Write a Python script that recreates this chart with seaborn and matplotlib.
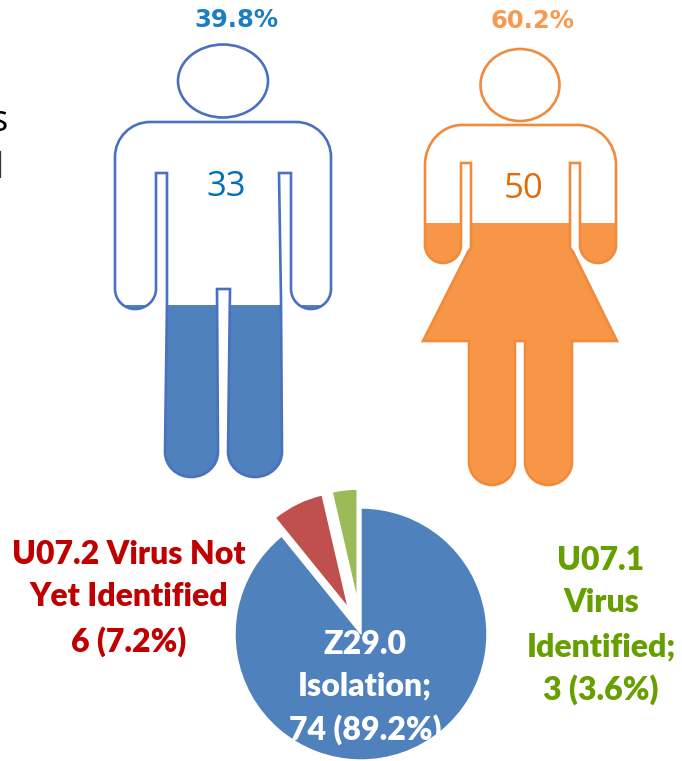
import matplotlib
matplotlib.use("Agg")
import matplotlib.pyplot as plt
from matplotlib.path import Path
from matplotlib.patches import PathPatch, Ellipse
import seaborn as sns

W, H = 682, 761

# valori
gender = ["Male", "Female"]
gender_counts = [33, 50]
gender_pct = [39.8, 60.2]
icd_codes = ["Z29.0 Isolation", "U07.2 Virus Not Yet Identified", "U07.1 Virus Identified"]
icd_counts = [74, 6, 3]

# colori
man_fill, man_line, man_pct, man_num = "#4F81BD", "#4A70C2", "#1B7EC2", "#0070C0"
woman_fill, woman_line, woman_pct, woman_num = "#F79646", "#F08A3C", "#F79A50", "#E36C09"
pie_colors = ["#4F81BD", "#C0504D", "#9BBB59"]

sns.set_theme(style="white")
plt.rcParams["font.family"] = ["Lato", "DejaVu Sans"]


def fy(y):
    return H - y


# sagoma: lista di segmenti in pixel, ("L", x, y) oppure angolo ("Q", cx, cy, x, y)
def sagoma(start, segs):
    k = 0.552
    verts = [(start[0], fy(start[1]))]
    codes = [Path.MOVETO]
    for s in segs:
        if s[0] == "L":
            verts.append((s[1], fy(s[2])))
            codes.append(Path.LINETO)
        else:
            px, py = verts[-1]
            cx, cy, ex, ey = s[1], fy(s[2]), s[3], fy(s[4])
            verts += [
                (px + k * (cx - px), py + k * (cy - py)),
                (ex + k * (cx - ex), ey + k * (cy - ey)),
                (ex, ey),
            ]
            codes += [Path.CURVE4, Path.CURVE4, Path.CURVE4]
    verts.append(verts[0])
    codes.append(Path.CLOSEPOLY)
    return Path(verts, codes)


man_path = sagoma((150, 122), [
    ("L", 296, 122), ("Q", 331, 122, 331, 157), ("L", 331, 289),
    ("Q", 331, 309, 311, 309), ("Q", 291, 309, 291, 289), ("L", 291, 173),
    ("L", 279, 173), ("L", 281, 300), ("L", 282, 452),
    ("Q", 282, 477, 255, 477), ("Q", 228, 477, 228, 452), ("L", 230, 289),
    ("L", 217, 289), ("L", 218, 452), ("Q", 218, 477, 191, 477),
    ("Q", 165, 477, 165, 452), ("L", 167, 300), ("L", 167, 173),
    ("L", 156, 173), ("L", 156, 289), ("Q", 156, 309, 135, 309),
    ("Q", 115, 309, 115, 289), ("L", 115, 157), ("Q", 115, 122, 150, 122),
])
woman_path = sagoma((462, 125), [
    ("L", 578, 125), ("Q", 616, 125, 616, 165), ("L", 616, 245),
    ("Q", 616, 263, 598, 263), ("Q", 580, 263, 580, 245), ("L", 580, 163),
    ("L", 570, 163), ("L", 570, 248), ("L", 573, 252), ("L", 617, 341),
    ("L", 572, 341), ("L", 572, 462), ("Q", 572, 485, 548, 485),
    ("Q", 525, 485, 525, 462), ("L", 525, 341), ("L", 515, 341),
    ("L", 515, 462), ("Q", 515, 485, 492, 485), ("Q", 469, 485, 469, 462),
    ("L", 469, 341), ("L", 423, 341), ("L", 468, 252), ("L", 471, 248),
    ("L", 471, 163), ("L", 461, 163), ("L", 461, 245), ("Q", 461, 263, 443, 263),
    ("Q", 425, 263, 425, 245), ("L", 425, 165), ("Q", 425, 125, 462, 125),
])

fig = plt.figure(figsize=(W / 100, H / 100), dpi=100, facecolor="white")
ax = fig.add_axes([0, 0, 1, 1], zorder=5)
ax.patch.set_visible(False)

# torta con spicchi staccati
wedges, _ = ax.pie(
    icd_counts,
    colors=pie_colors,
    startangle=90,
    counterclock=False,
    center=(361, fy(634)),
    radius=126,
    explode=[0, 29, 34],
)
wedges[1].set_radius(116)
wedges[2].set_radius(111)
ax.set_xlim(0, W)
ax.set_ylim(0, H)
ax.set_aspect("auto")
ax.axis("off")

# riempimento delle sagome: barra alta quanto la percentuale
persone = [
    (man_path, 100, 345, 45, 477, man_fill),
    (woman_path, 410, 630, 49, 485, woman_fill),
]
for i, (path, x0, x1, top, bot, col) in enumerate(persone):
    a = fig.add_axes([x0 / W, (H - bot) / H, (x1 - x0) / W, (bot - top) / H], zorder=2)
    sns.barplot(x=[gender[i]], y=[gender_pct[i]], color=col, saturation=1, width=1, ax=a)
    a.set_xlim(-0.5, 0.5)
    a.set_ylim(0, 100)
    a.axis("off")
    for bar in a.patches:
        bar.set_linewidth(0)
        bar.set_clip_path(path, ax.transData)

# contorni
ax.add_patch(PathPatch(man_path, fc="none", ec=man_line, lw=1.9))
ax.add_patch(PathPatch(woman_path, fc="none", ec=woman_line, lw=1.9))
ax.add_patch(Ellipse((223, fy(81)), 90, 73, fc="none", ec=man_line, lw=1.9))
ax.add_patch(Ellipse((520, fy(85)), 79, 72, fc="none", ec=woman_line, lw=1.9))

# testi
ax.text(236, fy(20), f"{gender_pct[0]}%", color=man_pct, fontsize=17.5, fontweight="bold",
        family="DejaVu Sans", ha="center", va="center")
ax.text(533, fy(21), f"{gender_pct[1]}%", color=woman_pct, fontsize=17.5, fontweight="bold",
        family="DejaVu Sans", ha="center", va="center")
ax.text(226, fy(187), str(gender_counts[0]), color=man_num, fontsize=25,
        family="Open Sans", ha="center", va="center")
ax.text(524, fy(189), str(gender_counts[1]), color=woman_num, fontsize=25,
        family="Open Sans", ha="center", va="center")

# resti del testo tagliato a sinistra
ax.text(-1, fy(122), "s", color="black", fontsize=26, family="Open Sans", ha="center", va="center")
ax.text(-1, fy(169), "l", color="#333333", fontsize=26, family="Open Sans", ha="center", va="center")

bold = dict(fontsize=23, fontweight="heavy", ha="center", va="center")
for txt, y in zip(["U07.2 Virus Not", "Yet Identified", "6 (7.2%)"], [555, 597, 642]):
    ax.text(129, fy(y), txt, color="#C00000", **bold)
for txt, y in zip(["U07.1", "Virus", "Identified;", "3 (3.6%)"], [561, 603, 647, 690]):
    ax.text(601, fy(y), txt, color="#66A000", **bold)
for txt, y in zip(["Z29.0", "Isolation;", "74 (89.2%)"], [644, 686, 730]):
    ax.text(365, fy(y), txt, color="white", **bold)

fig.savefig("out.png", dpi=100)
plt.close(fig)
